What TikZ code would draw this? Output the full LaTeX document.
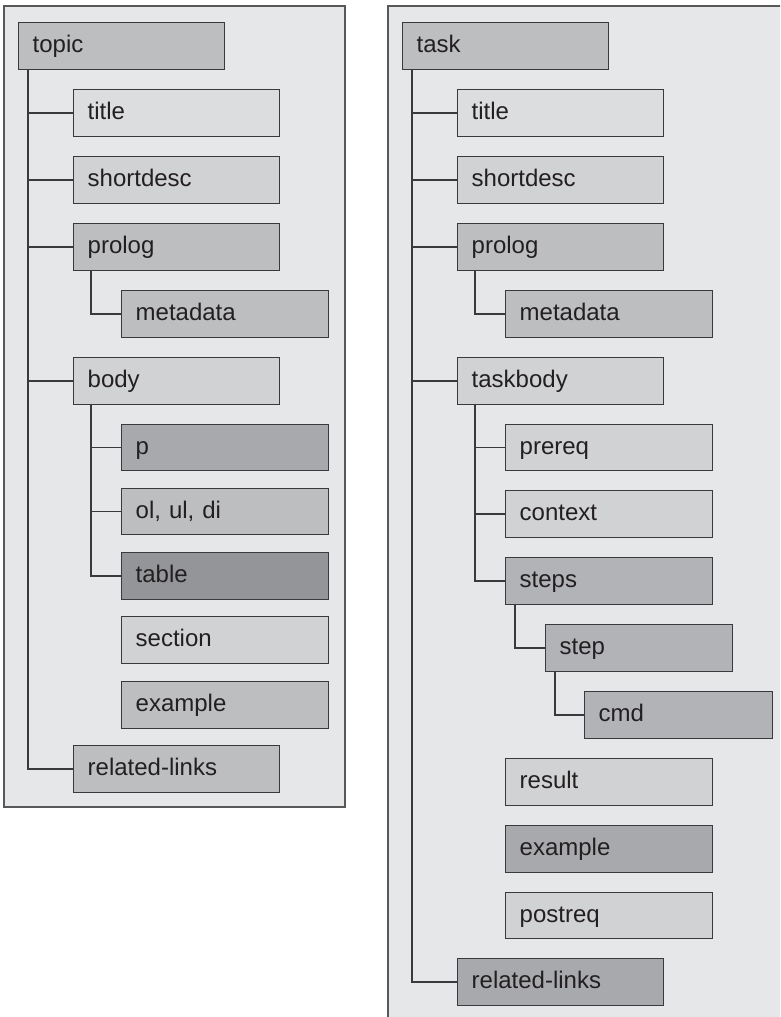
\documentclass[tikz,border=0pt]{standalone}
\usepackage{fontspec}
\setmainfont{Liberation Sans}
\definecolor{panel}{HTML}{E6E7E8}
\definecolor{cA}{HTML}{DCDDDE}
\definecolor{cB}{HTML}{D1D2D4}
\definecolor{cC}{HTML}{BCBEC0}
\definecolor{cD}{HTML}{B1B3B6}
\definecolor{cE}{HTML}{A7A9AC}
\definecolor{cF}{HTML}{939598}
\definecolor{ink}{HTML}{231F20}
\definecolor{edge}{HTML}{3A3A3C}
\tikzset{
  elem/.style={draw=edge, line width=1.4pt, rectangle, anchor=north west,
    minimum height=46.5pt, inner xsep=14pt, inner ysep=0pt,
    text height=14pt, text depth=0pt, align=left, text=ink,
    font=\fontsize{24}{28}\selectfont},
  wa/.style={text width=178pt},
  wb/.style={text width=179pt},
  wstep/.style={text width=159pt},
  wcmd/.style={text width=160pt},
  link/.style={draw=edge, line width=1.4pt},
  frame/.style={draw=edge!85, line width=1.4pt, fill=panel}
}
\begin{document}
\begin{tikzpicture}[x=1pt, y=-1pt]
\useasboundingbox (0,0) rectangle (780,1017);
\begin{scope}
\clip (0,0) rectangle (780,1017);
% the two panels
\draw[frame] (4,6) rectangle (345,807);
\draw[frame] (388,6) rectangle (800,1040);
\end{scope}

% ---------- topic ----------
\node[elem, wa, fill=cC] (topic) at (18,22) {topic};
\node[elem, wa, fill=cA] (ttitle) at (73,89) {title};
\node[elem, wa, fill=cB] (tshort) at (73,156) {shortdesc};
\node[elem, wa, fill=cC] (tprolog) at (73,223) {prolog};
\node[elem, wb, fill=cC] (tmeta) at (121,290) {metadata};
\node[elem, wa, fill=cB] (tbody) at (73,357) {body};
\node[elem, wb, fill=cE] (tp) at (121,423.5) {p};
\node[elem, wb, fill=cC] (tlist) at (121,487.5) {ol, ul, di};
\node[elem, wb, fill=cF] (ttable) at (121,552) {table};
\node[elem, wb, fill=cB] (tsection) at (121,616) {section};
\node[elem, wb, fill=cC] (texample) at (121,681) {example};
\node[elem, wa, fill=cC] (trel) at (73,745) {related-links};

\coordinate (tm) at ([xshift=10pt]topic.south west);
\draw[link] (tm) |- (trel.west);
\foreach \n in {ttitle,tshort,tprolog,tbody} \draw[link] (\n.west) -- (\n.west -| tm);
\coordinate (tpr) at ([xshift=18pt]tprolog.south west);
\draw[link] (tpr) |- (tmeta.west);
\coordinate (tbd) at ([xshift=18pt]tbody.south west);
\draw[link] (tbd) |- (ttable.west);
\foreach \n in {tp,tlist} \draw[link] (\n.west) -- (\n.west -| tbd);

% ---------- task ----------
\node[elem, wa, fill=cC] (task) at (402,22) {task};
\node[elem, wa, fill=cA] (ktitle) at (457,89) {title};
\node[elem, wa, fill=cB] (kshort) at (457,156) {shortdesc};
\node[elem, wa, fill=cC] (kprolog) at (457,223) {prolog};
\node[elem, wb, fill=cC] (kmeta) at (505,290) {metadata};
\node[elem, wa, fill=cB] (kbody) at (457,357) {taskbody};
\node[elem, wb, fill=cB] (kprereq) at (505,423.5) {prereq};
\node[elem, wb, fill=cB] (kcontext) at (505,490) {context};
\node[elem, wb, fill=cD] (ksteps) at (505,557) {steps};
\node[elem, wstep, fill=cD] (kstep) at (545,624) {step};
\node[elem, wcmd, fill=cD] (kcmd) at (584,691) {cmd};
\node[elem, wb, fill=cB] (kresult) at (505,758) {result};
\node[elem, wb, fill=cE] (kexample) at (505,825) {example};
\node[elem, wb, fill=cB] (kpost) at (505,891.5) {postreq};
\node[elem, wa, fill=cE] (krel) at (457,958) {related-links};

\coordinate (km) at ([xshift=10pt]task.south west);
\draw[link] (km) |- (krel.west);
\foreach \n in {ktitle,kshort,kprolog,kbody} \draw[link] (\n.west) -- (\n.west -| km);
\coordinate (kpr) at ([xshift=18pt]kprolog.south west);
\draw[link] (kpr) |- (kmeta.west);
\coordinate (kbd) at ([xshift=18pt]kbody.south west);
\draw[link] (kbd) |- (ksteps.west);
\foreach \n in {kprereq,kcontext} \draw[link] (\n.west) -- (\n.west -| kbd);
\coordinate (kst) at ([xshift=10pt]ksteps.south west);
\draw[link] (kst) |- (kstep.west);
\coordinate (ksp) at ([xshift=10pt]kstep.south west);
\draw[link] (ksp) |- (kcmd.west);
\end{tikzpicture}
\end{document}
